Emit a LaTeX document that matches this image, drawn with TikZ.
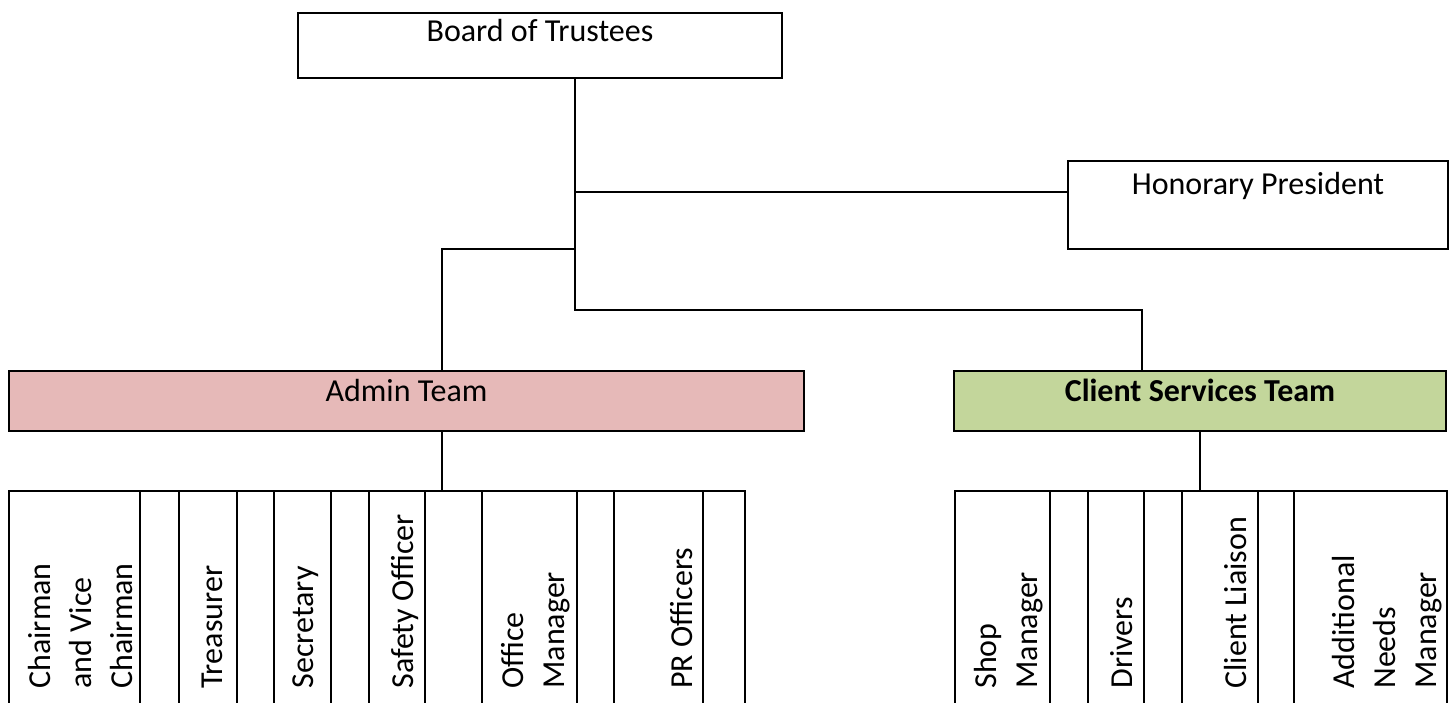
\documentclass[tikz,border=0pt]{standalone}
\usepackage{fontspec}
\setmainfont{Carlito}
\usetikzlibrary{positioning}
\definecolor{adminpink}{HTML}{E6B9B8}
\definecolor{clientgreen}{HTML}{C3D69B}
\newcommand{\chartfont}{\fontsize{16}{20.5}\selectfont}
\tikzset{
  box/.style={rectangle, draw, line width=1pt, inner sep=0pt, anchor=north west,
    font=\chartfont, text height=11pt, text depth=3pt},
  cell/.style={box, minimum height=120pt},
  role/.style={rotate=90, anchor=west, align=left, inner sep=0pt, font=\chartfont},
  line/.style={line width=1pt}
}
\begin{document}
\begin{tikzpicture}[x=0.5pt, y=-0.5pt]
    \useasboundingbox (0,0) rectangle (1456,702);
    % top of the chart
    \node[box, minimum width=242pt, minimum height=32.5pt, text depth=15pt] (board) at (297,12) {Board of Trustees};
    \node[box, minimum width=190pt, minimum height=44pt, text depth=21.5pt] (hon) at (1067,160) {Honorary President};
    \node[box, fill=adminpink, minimum width=397.5pt, minimum height=30pt, text depth=10.5pt] (admin) at (8,370) {Admin Team};
    \node[box, fill=clientgreen, minimum width=246pt, minimum height=30pt, text depth=10.5pt, font=\chartfont\bfseries] (client) at (953,370) {Client Services Team};
    % admin row
    \foreach \l/\r/\n in {8/139/a1, 139/178/a2, 178/236/a3, 236/273/a4, 273/330/a5, 330/368/a6,
                          368/424/a7, 424/481/a8, 481/576/a9, 576/613/a10, 613/702/a11, 702/744/a12}
      \node[cell, minimum width={(\r-\l)*0.5pt}] (\n) at (\l,490) {};
    % client row
    \foreach \l/\r/\n in {954/1049/c1, 1049/1087/c2, 1087/1143/c3, 1143/1181/c4,
                          1181/1257/c5, 1257/1293/c6, 1293/1446/c7}
      \node[cell, minimum width={(\r-\l)*0.5pt}] (\n) at (\l,490) {};
    % role names
    \node[role] (chair) at (81,689) {Chairman\\and Vice\\Chairman};
    \node[role] (treas) at (212,689) {Treasurer};
    \node[role] (secr) at (306,689) {Secretary};
    \node[role] (safety) at (405,689) {Safety Officer};
    \node[role] (office) at (536,689) {Office\\Manager};
    \node[role] (pr) at (682,689) {PR Officers};
    \node[role] (shop) at (1009,689) {Shop\\Manager};
    \node[role] (drivers) at (1122,689) {Drivers};
    \node[role] (liaison) at (1235,689) {Client Liaison};
    \node[role] (needs) at (1387,689) {Additional\\Needs\\Manager};
    % connectors
    \coordinate (hp) at (575,192);
    \coordinate (ap) at (575,249);
    \coordinate (cp) at (575,310);
    \coordinate (aj) at (442,249);
    \coordinate (cj) at (1142,310);
    \draw[line] (board.south -| cp) -- (cp) -- (cj) -- (cj |- client.north);
    \draw[line] (hp) -- (hp -| hon.west);
    \draw[line] (ap) -- (aj) -- (aj |- admin.north);
    \draw[line] (aj |- admin.south) -- (aj |- a1.north);
    \draw[line] (client.south) -- (client.south |- c1.north);
  \end{tikzpicture}
\end{document}
